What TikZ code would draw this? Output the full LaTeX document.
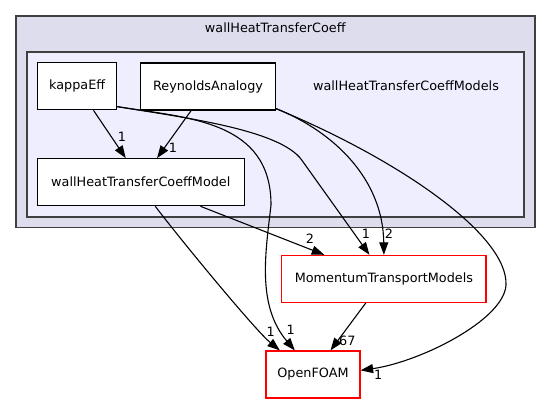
\documentclass[tikz,border=0pt]{standalone}
\usepackage{fontspec}
\setmainfont{DejaVu Sans}
\usetikzlibrary{positioning,calc,arrows.meta}
\definecolor{outerfill}{HTML}{DDDDEE}
\definecolor{innerfill}{HTML}{EEEEFF}
\definecolor{clusterline}{HTML}{404040}

\begin{document}
\begin{tikzpicture}[x=1pt,y=-1pt,
		every node/.style={font=\fontsize{12.8}{14}\selectfont, inner sep=0pt},
		dirbox/.style={draw=black, fill=white, line width=1.2pt, minimum height=47pt},
		extbox/.style={dirbox, draw=red},
		clusterbox/.style={draw=clusterline, line width=1.4pt},
		dep/.style={-{Triangle[length=12.5pt,width=9pt]}, line width=1.1pt},
		cnt/.style={}]
		\useasboundingbox (0,0) rectangle (551,404);
		\node[clusterbox, fill=outerfill, minimum width=519pt, minimum height=211pt] (whtc) at (275.3,121.7) {};
		\node (whtclabel) at (275.3,28) {wallHeatTransferCoeff};
		\node[clusterbox, fill=innerfill, minimum width=497pt, minimum height=165pt] (models) at (275.3,134.5) {};
		\node (modelslabel) at (406,86) {wallHeatTransferCoeffModels};
		\node[dirbox, minimum width=79pt] (kappa) at (77.2,86.2) {kappaEff};
		\node[dirbox, minimum width=134.6pt] (reyn) at (208,86.5) {ReynoldsAnalogy};
		\node[dirbox, minimum width=207pt] (model) at (140.8,182.2) {wallHeatTransferCoeffModel};
		\node[extbox, minimum width=204.3pt] (mtm) at (383.9,278.9) {MomentumTransportModels};
		\node[extbox, minimum width=94pt] (foam) at (313,374.5) {OpenFOAM};
		\draw[dep] (kappa.-56) -- (model.122);
		\draw[dep] (reyn.-125) -- (model.56);
		\draw[dep] (kappa.-27) .. controls (187,118) and (280,130) .. (301.7,160) -- (mtm.121);
		\draw[dep] (kappa.-27) .. controls (187,118) and (271,120) .. (271,205) .. controls (266,250) and (256,305) .. (foam.127);
		\draw[dep] (reyn.-18) .. controls (335,132) and (383,180) .. (mtm.north);
		\draw[dep] (reyn.-18) .. controls (400,160) and (508,235) .. (506,285) .. controls (504,320) and (420,362) .. (foam.5);
		\draw[dep] (model.-22) -- (mtm.158);
		\draw[dep] (model.-59) .. controls (180.5,239.6) and (255,330) .. (foam.144);
		\draw[dep] (mtm.-127) -- (foam.54);
		\node[cnt] (nkm) at (122,137) {1};
		\node[cnt] (nrm) at (173,148) {1};
		\node[cnt] (nkt) at (366,234) {1};
		\node[cnt] (nrt) at (389,234) {2};
		\node[cnt] (nmt) at (310,239) {2};
		\node[cnt] (nmf) at (270.7,332) {1};
		\node[cnt] (nkf) at (290.7,330) {1};
		\node[cnt] (ntf) at (347.3,341) {67};
		\node[cnt] (nrf) at (378.3,375) {1};
\end{tikzpicture}
\end{document}
